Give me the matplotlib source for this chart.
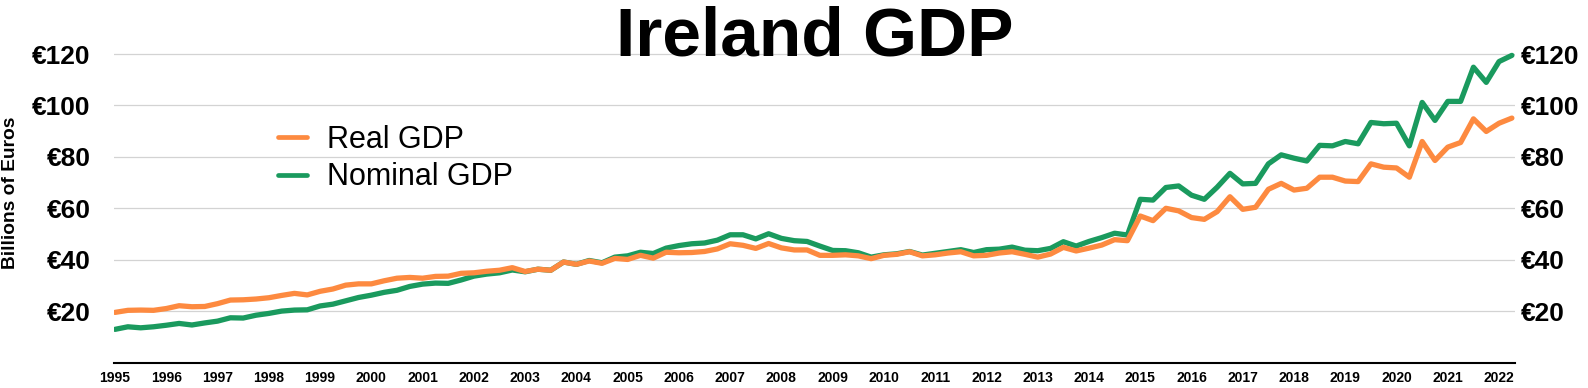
import matplotlib
matplotlib.use('Agg')
import matplotlib.pyplot as plt
import numpy as np

plt.rcParams['font.family'] = ['Liberation Sans', 'DejaVu Sans']

# Data: quarterly values, 1995 Q1 .. 2022 Q2 (billions of euros)
start_year = 1995
real_gdp = [
    19.5, 20.3, 20.4, 20.3, 21.0, 22.1, 21.7, 21.8, 22.9, 24.3,
    24.4, 24.7, 25.2, 26.1, 26.9, 26.3, 27.7, 28.6, 30.1, 30.6,
    30.6, 31.8, 32.8, 33.1, 32.8, 33.5, 33.6, 34.7, 34.9, 35.5,
    35.9, 36.9, 35.4, 36.3, 35.9, 39.1, 38.2, 39.5, 38.6, 40.5,
    40.1, 41.7, 40.6, 42.9, 42.7, 42.8, 43.2, 44.2, 46.2, 45.6,
    44.4, 46.3, 44.6, 43.8, 43.8, 41.7, 41.7, 41.9, 41.5, 40.4,
    41.7, 42.1, 43.1, 41.5, 41.9, 42.6, 43.1, 41.5, 41.7, 42.6,
    43.1, 42.1, 41.0, 42.2, 44.8, 43.4, 44.5, 45.7, 47.8, 47.4,
    57.0, 55.2, 60.0, 59.0, 56.4, 55.7, 58.7, 64.5, 59.6, 60.4,
    67.4, 69.7, 67.1, 67.8, 72.1, 72.1, 70.6, 70.4, 77.3, 76.0,
    75.7, 72.1, 86.0, 78.6, 83.8, 85.6, 94.8, 89.9, 93.1, 95.1,
]
nominal_gdp = [
    12.9, 13.9, 13.5, 13.9, 14.5, 15.2, 14.6, 15.4, 16.1, 17.4,
    17.3, 18.4, 19.1, 20.0, 20.4, 20.5, 22.0, 22.7, 24.0, 25.3,
    26.2, 27.3, 28.1, 29.6, 30.5, 30.9, 30.8, 32.1, 33.6, 34.4,
    34.9, 36.0, 35.3, 36.3, 35.9, 39.1, 38.2, 39.7, 38.8, 41.0,
    41.5, 42.9, 42.4, 44.5, 45.5, 46.2, 46.5, 47.6, 49.7, 49.7,
    48.1, 50.1, 48.3, 47.4, 47.1, 45.3, 43.6, 43.5, 42.7, 41.0,
    41.9, 42.3, 43.2, 41.8, 42.5, 43.2, 43.9, 42.8, 43.9, 44.1,
    44.9, 43.7, 43.5, 44.4, 47.0, 45.3, 47.1, 48.6, 50.3, 49.6,
    63.5, 63.2, 68.1, 68.7, 65.1, 63.5, 68.2, 73.6, 69.5, 69.7,
    77.3, 80.8, 79.5, 78.4, 84.5, 84.3, 86.0, 85.1, 93.4, 92.9,
    93.1, 84.3, 101.2, 94.2, 101.6, 101.6, 114.9, 109.0, 117.1, 119.5,
]
years = list(range(1995, 2023))
y_ticks = [20, 40, 60, 80, 100, 120]

t = start_year + np.arange(len(real_gdp)) / 4

# Layout
fig = plt.figure(figsize=(15.88, 3.88), dpi=100)
ax = fig.add_axes([0.0718, 0.0657, 0.8822, 0.828])

orange = '#fd8a40'
green = '#1a9a5e'

# Plot
l_nom, = ax.plot(t, nominal_gdp, color=green, lw=3.8, solid_joinstyle='round',
                 solid_capstyle='round', label='Nominal GDP', zorder=3)
l_real, = ax.plot(t, real_gdp, color=orange, lw=3.8, solid_joinstyle='round',
                  solid_capstyle='round', label='Real GDP', zorder=4)

# Details
ax.set_xlim(1994.98, 2022.31)
ax.set_ylim(0, 125)
ax.set_yticks(y_ticks)
ax.set_yticklabels([f'€{v}' for v in y_ticks])
ax.set_xticks(years)
ax.set_xticklabels([str(y) for y in years])
ax.grid(axis='y', color='#d3d3d3', lw=0.9)
ax.set_axisbelow(True)
for s in ['top', 'left', 'right']:
    ax.spines[s].set_visible(False)
ax.spines['bottom'].set_linewidth(1.5)
ax.spines['bottom'].set_color('black')
ax.tick_params(axis='y', length=0, pad=17, labelsize=19)
ax.tick_params(axis='x', length=0, pad=6, labelsize=10)
for lab in ax.get_yticklabels() + ax.get_xticklabels():
    lab.set_fontweight('bold')

ax2 = ax.twinx()
ax2.set_ylim(ax.get_ylim())
ax2.set_yticks(y_ticks)
ax2.set_yticklabels([f'€{v}' for v in y_ticks])
ax2.tick_params(axis='y', length=0, pad=4, labelsize=19)
for lab in ax2.get_yticklabels():
    lab.set_fontweight('bold')
for s in ['top', 'left', 'right', 'bottom']:
    ax2.spines[s].set_visible(False)

leg = ax.legend([l_real, l_nom], ['Real GDP', 'Nominal GDP'], loc='upper left',
                bbox_to_anchor=(0.117, 0.74), frameon=False, fontsize=22,
                handlelength=0.95, handletextpad=0.65, labelspacing=0.25,
                borderpad=0, borderaxespad=0)
for h in leg.legend_handles:
    h.set_linewidth(3.4)

fig.text(11 / 1588, 1 - 192.5 / 388, 'Billions of Euros', rotation=90,
         ha='center', va='center', fontsize=13.8, fontweight='bold')
fig.text(0.5128, 1 - 56 / 388, 'Ireland GDP', ha='center', va='baseline',
         fontsize=50, fontweight='bold')

# Output
fig.savefig('out.png', dpi=100)
